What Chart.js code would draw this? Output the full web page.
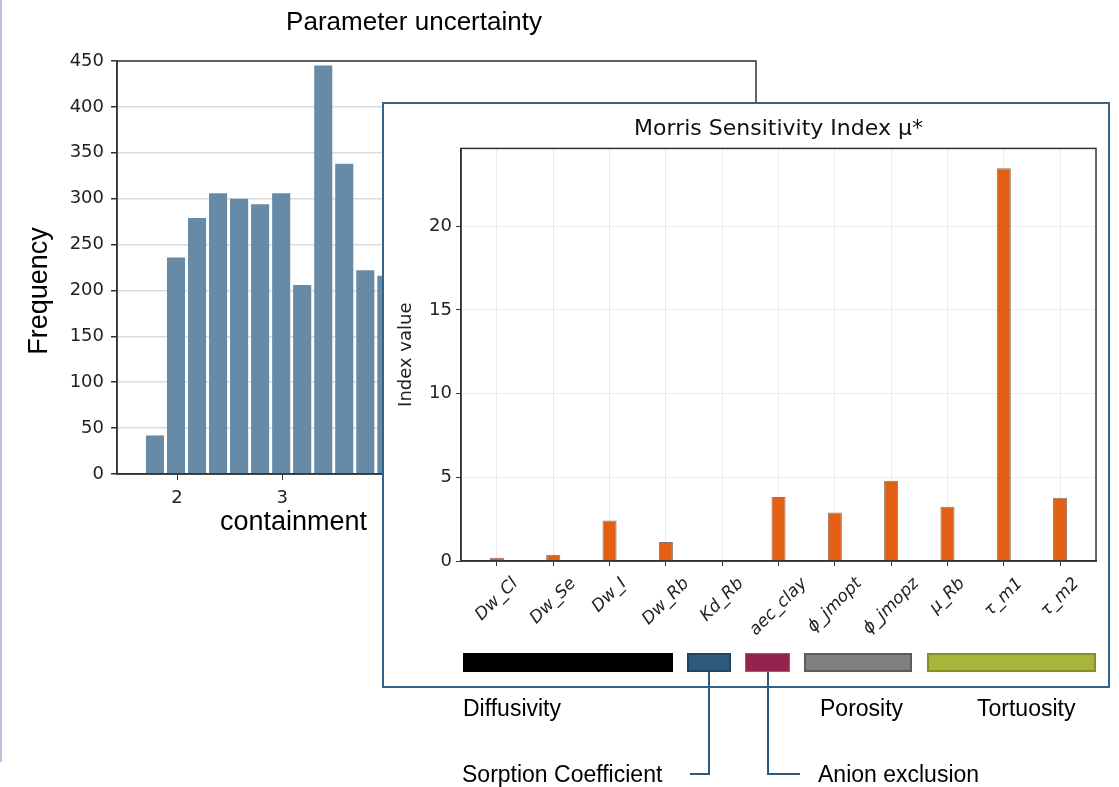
<!DOCTYPE html>
<html lang="en">
<head>
<meta charset="UTF-8">
<title>Parameter uncertainty and Morris sensitivity</title>
<script src="https://cdn.jsdelivr.net/npm/chart.js@4.4.0/dist/chart.umd.min.js"></script>
<style>
  body { margin: 0; background: #fff; width: 1119px; height: 787px; position: relative; overflow: hidden;
         font-family: "Liberation Sans", Arial, sans-serif; }
  .edge { position: absolute; left: 0; top: 0; width: 2px; height: 762px; background: #bcc3dc; }
  #histWrap { position: absolute; left: 0; top: 0; width: 828px; height: 545px; }
  .inset { position: absolute; left: 382px; top: 102px; width: 724px; height: 582px;
           border: 2px solid #33648b; background: #fff; z-index: 2; }
  .grp { position: absolute; top: 653px; height: 19px; box-sizing: border-box; z-index: 3; }
  .lbl { position: absolute; font-size: 23px; line-height: 26px; color: #000; white-space: nowrap; z-index: 3; }
  svg.links { position: absolute; left: 0; top: 0; z-index: 3; }
</style>
</head>
<body>
<div class="edge"></div>

<div id="histWrap"><canvas id="hist"></canvas></div>

<div class="inset"><canvas id="morris"></canvas></div>

<!-- parameter groups under the inset -->
<div class="grp" style="left:463px; width:210px; background:#000;"></div>
<div class="grp" style="left:687px; width:44px; background:#2e5b7d; border:2px solid #21455f;"></div>
<div class="grp" style="left:745px; width:45px; background:#952350; border:1px solid #b8506e;"></div>
<div class="grp" style="left:804px; width:108px; background:#7f7f7f; border:2px solid #5b5b5b;"></div>
<div class="grp" style="left:927px; width:169px; background:#a9b43a; border:2px solid #838f27;"></div>

<svg class="links" width="1119" height="787">
  <path d="M709 672 V774 H690" fill="none" stroke="#2e5b7d" stroke-width="2"/>
  <path d="M768 672 V774 H800" fill="none" stroke="#2e5b7d" stroke-width="2"/>
</svg>

<div class="lbl" style="left:463px; top:695px;">Diffusivity</div>
<div class="lbl" style="left:820px; top:695px;">Porosity</div>
<div class="lbl" style="left:977px; top:695px;">Tortuosity</div>
<div class="lbl" style="left:462px; top:761px;">Sorption Coefficient</div>
<div class="lbl" style="left:818px; top:761px;">Anion exclusion</div>

<script>
// histogram (only the bins that are not hidden by the inset)
var histCenters = [1.79, 1.99, 2.19, 2.39, 2.59, 2.79, 2.99, 3.19, 3.39, 3.59, 3.79, 3.99];
var histCounts = [42, 236, 279, 306, 300, 294, 306, 206, 445, 338, 222, 216];

// Morris mu* per parameter
var morrisParams = ['Dw_Cl', 'Dw_Se', 'Dw_I', 'Dw_Rb', 'Kd_Rb', 'aec_clay', 'ϕ_jmopt', 'ϕ_jmopz', 'μ_Rb', 'τ_m1', 'τ_m2'];
var morrisIndex = [0.2, 0.37, 2.42, 1.14, 0, 3.82, 2.9, 4.8, 3.24, 23.47, 3.78];

Chart.defaults.font.family = '"DejaVu Sans", sans-serif';
Chart.defaults.color = '#222';

var frame = {
    id: 'frame',
    afterDatasetsDraw: function (chart) {
        var a = chart.chartArea, c = chart.ctx;
        c.save();
        c.strokeStyle = '#333';
        c.lineWidth = 1.5;
        c.strokeRect(a.left, a.top, a.right - a.left, a.bottom - a.top);
        c.restore();
    }
};

var histText = {
    id: 'histText',
    afterDraw: function (chart) {
        var c = chart.ctx;
        c.save();
        c.fillStyle = '#000';
        c.textBaseline = 'middle';
        c.font = '26px "Liberation Sans", Arial, sans-serif';
        c.textAlign = 'center';
        c.fillText('Parameter uncertainty', 414, 23);
        c.font = '27px "Liberation Sans", Arial, sans-serif';
        c.textAlign = 'left';
        c.fillText('containment', 220, 523);
        c.translate(40, 291);
        c.rotate(-Math.PI / 2);
        c.textAlign = 'center';
        c.fillText('Frequency', 0, 0);
        c.restore();
    }
};

// 45 degree labels centred under their ticks (matplotlib ha='center' look)
var slantLabels = {
    id: 'slantLabels',
    afterDraw: function (chart) {
        var s = chart.scales.x, c = chart.ctx, ang = Math.PI / 4, size = 17;
        c.save();
        c.font = 'italic ' + size + 'px "DejaVu Sans", sans-serif';
        c.fillStyle = '#222';
        c.textAlign = 'center';
        c.textBaseline = 'middle';
        morrisParams.forEach(function (name, i) {
            var w = c.measureText(name).width;
            var boxH = w * Math.sin(ang) + size * Math.cos(ang);
            c.save();
            c.translate(s.getPixelForValue(i), s.top + 14 + boxH / 2);
            c.rotate(-ang);
            c.fillText(name, 0, 0);
            c.restore();
        });
        c.restore();
    }
};

new Chart(document.getElementById('hist'), {
    type: 'bar',
    data: {
        datasets: [{
            data: histCenters.map(function (x, i) { return {x: x, y: histCounts[i]}; }),
            backgroundColor: '#678aa7',
            barPercentage: 0.86,
            categoryPercentage: 1
        }]
    },
    options: {
        responsive: true,
        maintainAspectRatio: false,
        animation: false,
        layout: {padding: {top: 61, right: 72, left: 0, bottom: 0}},
        plugins: {legend: {display: false}, tooltip: {enabled: false}},
        scales: {
            x: {
                type: 'linear', min: 1.429, max: 7.505, offset: false,
                ticks: {stepSize: 1, includeBounds: false, font: {size: 18}, padding: 8},
                grid: {drawOnChartArea: false, offset: false, tickLength: 6, tickColor: '#333'},
                border: {color: '#333', width: 1.5},
                afterFit: function (s) { s.height = 71; }
            },
            y: {
                min: 0, max: 450,
                ticks: {stepSize: 50, font: {size: 18}, padding: 7},
                grid: {color: '#dcdcdc', lineWidth: 1.5, tickLength: 6, tickColor: '#333'},
                border: {color: '#333', width: 1.5},
                afterFit: function (s) { s.width = 117; }
            }
        }
    },
    plugins: [frame, histText]
});

new Chart(document.getElementById('morris'), {
    type: 'bar',
    data: {
        datasets: [{
            data: morrisIndex.map(function (v, i) { return {x: i, y: v}; }),
            backgroundColor: '#e35f14',
            borderColor: '#8a7468',
            borderWidth: 1,
            barPercentage: 0.25,
            categoryPercentage: 1
        }]
    },
    options: {
        responsive: true,
        maintainAspectRatio: false,
        animation: false,
        layout: {padding: {top: 0, right: 12, left: 0, bottom: 0}},
        plugins: {
            legend: {display: false},
            tooltip: {enabled: false},
            title: {
                display: true, fullSize: false,
                text: 'Morris Sensitivity Index μ*',
                color: '#111',
                font: {size: 22, weight: 'normal'},
                padding: {top: 12, bottom: 6}
            }
        },
        scales: {
            x: {
                type: 'linear', min: -0.6375, max: 10.6375, offset: false,
                ticks: {stepSize: 1, includeBounds: false, autoSkip: false, display: false},
                grid: {color: '#ebebeb', offset: false, tickLength: 5, tickColor: '#333'},
                border: {color: '#222', width: 1.5},
                afterFit: function (s) { s.height = 125; }
            },
            y: {
                min: 0, max: 24.65,
                ticks: {stepSize: 5, includeBounds: false, font: {size: 18}, padding: 4},
                grid: {color: '#ebebeb', tickLength: 5, tickColor: '#333'},
                border: {color: '#333', width: 1.5},
                title: {display: true, text: 'Index value', font: {size: 18}, color: '#222', padding: {top: 12, bottom: 4}},
                afterFit: function (s) { s.width = 77; }
            }
        }
    },
    plugins: [frame, slantLabels]
});
</script>
</body>
</html>
